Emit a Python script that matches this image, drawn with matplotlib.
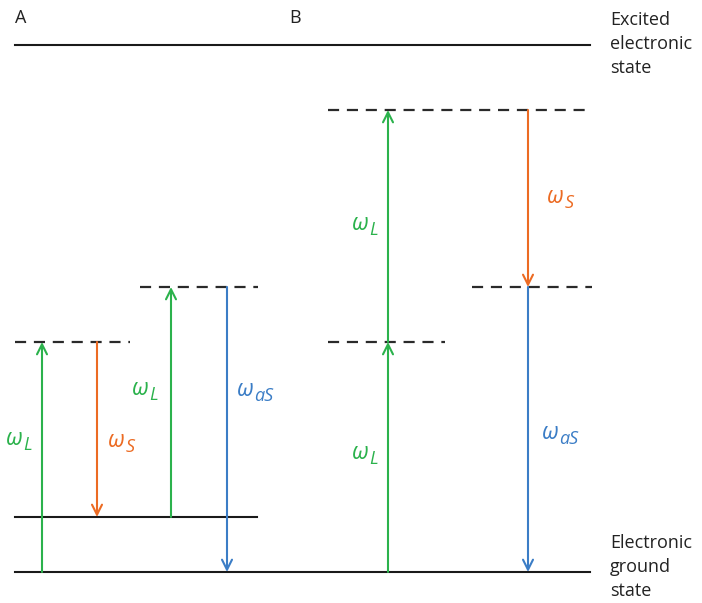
import matplotlib.pyplot as plt

# energy levels (arbitrary units, ground state = 0)
E_ground = 0
E_vib = 55
E_virt_low = 230
E_virt_mid = 285
E_virt_high = 462
E_excited = 527

# horizontal positions of the transitions
x_A = [42, 97, 171, 227]
x_B = [388, 528]

green = '#2bb24c'
orange = '#ec6b23'
blue = '#3b7dc6'

plt.rcParams['font.family'] = ['Open Sans', 'DejaVu Sans']

fig = plt.figure(figsize=(7.02, 6.03), dpi=100)
ax = fig.add_axes([0, 0, 1, 1])
ax.set_xlim(0, 702)
ax.set_ylim(-31, 572)
ax.axis('off')

# solid levels
ax.plot([15, 590], [E_excited, E_excited], color='#1a1a1a', lw=1.5)
ax.plot([15, 590], [E_ground, E_ground], color='#1a1a1a', lw=1.5)
ax.plot([15, 257], [E_vib, E_vib], color='#1a1a1a', lw=1.5)

# virtual levels
dash = dict(color='#2a2a2a', lw=1.6, linestyle=(0, (5, 3.5)))
ax.plot([15, 130], [E_virt_low, E_virt_low], **dash)
ax.plot([140, 258], [E_virt_mid, E_virt_mid], **dash)
ax.plot([328, 445], [E_virt_low, E_virt_low], **dash)
ax.plot([328, 592], [E_virt_high, E_virt_high], **dash)
ax.plot([472, 592], [E_virt_mid, E_virt_mid], **dash)


def arrow(x, y0, y1, color):
    ax.annotate('', xy=(x, y1), xytext=(x, y0),
                arrowprops=dict(arrowstyle='->', color=color, lw=1.5,
                                mutation_scale=18, shrinkA=0, shrinkB=0))


def label(x, y, sub, color):
    # omega with a large italic subscript hanging off its lower right corner
    w = ax.text(x, y, 'ω', color=color, fontsize=16.5, style='italic',
                ha='left', va='baseline')
    ax.annotate(sub, xy=(1, 0), xycoords=w, xytext=(0.5, 0.5),
                textcoords='offset points', color=color, fontsize=13,
                style='italic', ha='left', va='baseline')


# A: Stokes and anti-Stokes
arrow(x_A[0], E_ground, E_virt_low, green)
arrow(x_A[1], E_virt_low, E_vib, orange)
arrow(x_A[2], E_vib, E_virt_mid, green)
arrow(x_A[3], E_virt_mid, E_ground, blue)
label(6, 572 - 445, 'L', green)
label(108, 572 - 447, 'S', orange)
label(132, 572 - 395, 'L', green)
label(237, 572 - 396, 'aS', blue)

# B: CARS
arrow(x_B[0], E_ground, E_virt_low, green)
arrow(x_B[0], E_virt_low, E_virt_high, green)
arrow(x_B[1], E_virt_high, E_virt_mid, orange)
arrow(x_B[1], E_virt_mid, E_ground, blue)
label(352, 572 - 459, 'L', green)
label(352, 572 - 230, 'L', green)
label(547, 572 - 203, 'S', orange)
label(542, 572 - 439, 'aS', blue)

ax.text(15, 572 - 18, 'A', fontsize=13, color='#222222', ha='left', va='center')
ax.text(289, 572 - 18, 'B', fontsize=13, color='#222222', ha='left', va='center')

ax.text(610, 572 - 44, 'Excited\nelectronic\nstate', fontsize=13,
        color='#222222', ha='left', va='center', linespacing=1.45)
ax.text(610, 572 - 567, 'Electronic\nground\nstate', fontsize=13,
        color='#222222', ha='left', va='center', linespacing=1.45)

fig.savefig('out.png', dpi=100)
